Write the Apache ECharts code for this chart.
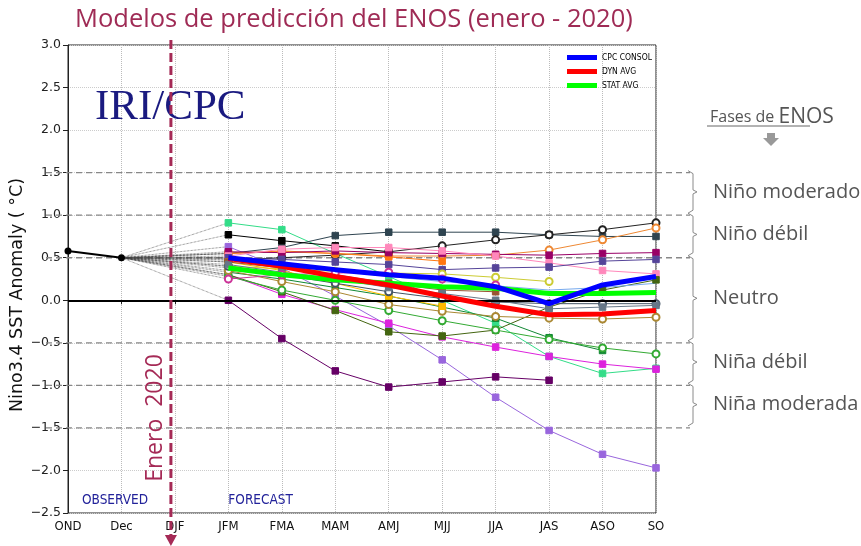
<!DOCTYPE html>
<html><head><meta charset="utf-8">
<script src="https://cdn.jsdelivr.net/npm/echarts@6/dist/echarts.min.js"></script>
<style>html,body{margin:0;padding:0;background:#fff}#c{width:861px;height:546px}</style>
</head><body><div id="c"></div>
<script>
// ---------- data ----------
const categories = ['OND','Dec','DJF','JFM','FMA','MAM','AMJ','MJJ','JJA','JAS','ASO','SO'];
const yTicks = [-2.5,-2.0,-1.5,-1.0,-0.5,0.0,0.5,1.0,1.5,2.0,2.5,3.0];
const observed = [0.58, 0.50];            // OND, Dec
// forecast values JFM..SO
const cpcConsol = [0.50,0.43,0.36,0.30,0.26,0.16,-0.04,0.18,0.28];
const dynAvg    = [0.49,0.40,0.28,0.18,0.05,-0.07,-0.17,-0.16,-0.12];
const statAvg   = [0.38,0.30,0.24,0.20,0.16,0.14,0.08,0.08,0.09];

const mSeafoam   = [0.91,0.83,0.55,0.28,0.00,-0.27,-0.66,-0.86,-0.80];
const mLavender  = [0.63,0.38,0.05,-0.30,-0.70,-1.14,-1.53,-1.81,-1.97];
const mPlum      = [0.00,-0.45,-0.83,-1.02,-0.96,-0.90,-0.94,null,null];
const mSlate     = [0.55,0.62,0.76,0.80,0.80,0.80,0.77,0.75,0.75];
const mBlackSq   = [0.77,0.70,0.64,0.57,null,null,null,null,null];
const mBlackCirc = [0.47,0.50,0.53,0.57,0.64,0.71,0.77,0.83,0.91];
const mOrangeCirc= [0.55,0.57,0.55,0.52,0.52,0.53,0.59,0.71,0.85];
const mOrangeSq  = [0.55,0.58,0.55,0.51,0.46,null,null,null,null];
const mWine      = [0.57,0.56,0.58,0.56,0.55,0.54,0.53,0.55,0.56];
const mPink      = [0.52,0.60,0.62,0.62,0.58,0.52,0.44,0.35,0.31];
const mIndigo    = [0.50,0.48,0.45,0.42,0.36,0.38,0.39,0.46,0.48];
const mYellow    = [0.40,0.37,0.34,0.32,0.31,0.27,0.22,null,null];
const mMagenta   = [0.30,0.07,-0.11,-0.27,-0.43,-0.55,-0.66,-0.75,-0.81];
const mOlive     = [0.30,0.10,-0.12,-0.37,-0.42,-0.35,-0.08,0.12,0.24];
const mDkGreen   = [0.33,0.25,0.15,0.05,-0.08,-0.21,-0.44,-0.59,null];
const mGreenCirc = [0.28,0.12,0.00,-0.12,-0.24,-0.35,-0.46,-0.56,-0.63];
const mTan       = [0.35,0.22,0.10,-0.05,-0.13,-0.19,-0.21,-0.22,-0.20];
const mGold      = [0.45,0.35,0.20,0.05,-0.07,null,null,null,null];
const mBrown     = [0.45,0.38,0.30,0.20,0.12,0.10,null,null,null];
const mLtBlue    = [0.48,0.42,0.35,0.28,0.22,0.17,0.12,0.15,0.20];
const mGrayCirc  = [0.40,0.30,0.20,0.10,0.02,-0.02,-0.04,-0.04,-0.04];
const mGraySq    = [0.42,0.33,0.25,0.15,0.08,0.00,-0.10,-0.08,-0.06];
const mRoseCirc  = [0.25,0.30,0.32,0.33,0.25,0.18,null,null,null];

const phaseLines = [1.5,1.0,0.5,-0.5,-1.0,-1.5];
const phaseNames = ['Niño moderado','Niño débil','Neutro','Niña débil','Niña moderada'];

// ---------- build ----------
const models = [
  {v:mSeafoam,c:'#33dd88',s:'rect'},{v:mLavender,c:'#9966dd',s:'rect'},{v:mPlum,c:'#660066',s:'rect'},
  {v:mSlate,c:'#2f4450',s:'rect'},{v:mBlackSq,c:'#000000',s:'rect'},{v:mBlackCirc,c:'#222222',s:'emptyCircle'},
  {v:mOrangeCirc,c:'#ee8833',s:'emptyCircle'},{v:mOrangeSq,c:'#ff7711',s:'rect'},{v:mWine,c:'#990066',s:'rect'},
  {v:mPink,c:'#ff88bb',s:'rect'},{v:mIndigo,c:'#554499',s:'rect'},{v:mYellow,c:'#cccc33',s:'emptyCircle'},
  {v:mMagenta,c:'#dd22dd',s:'rect'},{v:mOlive,c:'#446611',s:'rect'},{v:mDkGreen,c:'#118833',s:'rect'},
  {v:mGreenCirc,c:'#33aa33',s:'emptyCircle'},{v:mTan,c:'#aa8833',s:'emptyCircle'},{v:mGold,c:'#ffbb00',s:'rect'},
  {v:mBrown,c:'#995533',s:'rect'},{v:mLtBlue,c:'#77aaee',s:'none'},{v:mGrayCirc,c:'#445566',s:'emptyCircle'},
  {v:mGraySq,c:'#667788',s:'rect'},{v:mRoseCirc,c:'#cc3399',s:'emptyCircle'}
];
const lead = [null,null,null];
const series = [];
// connectors Dec -> JFM
models.concat([{v:cpcConsol},{v:dynAvg},{v:statAvg}]).forEach(m => {
  series.push({type:'line', silent:true, connectNulls:true, symbol:'none', z:1,
    data:[null, observed[1], null, m.v[0]].concat(new Array(8).fill(null)),
    lineStyle:{color:'#444', width:0.7, type:'dotted'}});
});
models.forEach(m => {
  series.push({type:'line', silent:true, symbol:m.s, symbolSize: m.s==='rect'?6.5:7,
    data: lead.concat(m.v), z:3,
    itemStyle:{color:m.c, borderColor:m.c, borderWidth:1},
    lineStyle:{color:m.c, width:1}});
});
series.push({name:'observed', type:'line', silent:true, symbol:'circle', symbolSize:7, z:6,
  data: observed.concat(new Array(10).fill(null)),
  itemStyle:{color:'#000'}, lineStyle:{color:'#000', width:2},
  markLine:{silent:true, symbol:'none', label:{show:false}, lineStyle:{color:'#000', width:2, type:'solid'}, data:[{yAxis:0}]}});
series.push({name:'STAT AVG', type:'line', symbol:'none', z:7, data: lead.concat(statAvg), itemStyle:{color:'#00ff00'}, lineStyle:{color:'#00ff00', width:5}});
series.push({name:'DYN AVG', type:'line', symbol:'none', z:8, data: lead.concat(dynAvg), itemStyle:{color:'#ff0000'}, lineStyle:{color:'#ff0000', width:5}});
series.push({name:'CPC CONSOL', type:'line', symbol:'none', z:9, data: lead.concat(cpcConsol), itemStyle:{color:'#0000ff'}, lineStyle:{color:'#0000ff', width:5}});

const option = {
  animation:false,
  backgroundColor:'#ffffff',
  title:{text:'Modelos de predicción del ENOS (enero - 2020)', left:70, top:2,
    textStyle:{fontFamily:'Open Sans', fontSize:25.5, fontWeight:'normal', color:'#9f2b55'}},
  legend:{data:['CPC CONSOL','DYN AVG','STAT AVG'], orient:'vertical', left:562, top:47,
    icon:'rect', itemWidth:30, itemHeight:5, itemGap:3,
    textStyle:{fontFamily:'DejaVu Sans Condensed, DejaVu Sans', fontSize:8.5, color:'#000', lineHeight:11}},
  grid:{left:68, right:205, top:45, bottom:33, show:true, borderColor:'#222', borderWidth:1, backgroundColor:'transparent'},
  xAxis:{type:'category', data:categories, boundaryGap:false,
    axisLine:{lineStyle:{color:'#222', width:1}}, axisTick:{show:true, length:4, lineStyle:{color:'#222'}},
    axisLabel:{fontFamily:'DejaVu Sans Condensed, DejaVu Sans', fontSize:13, color:'#111', margin:7, interval:0},
    splitLine:{show:true, lineStyle:{color:'#bbb', type:'dotted', width:1}}},
  yAxis:{type:'value', min:yTicks[0], max:yTicks[yTicks.length-1], interval:0.5,
    axisLine:{show:true, lineStyle:{color:'#222', width:1}}, axisTick:{show:true, length:5, lineStyle:{color:'#222'}},
    axisLabel:{fontFamily:'DejaVu Sans', fontSize:12.5, color:'#222', margin:7,
      formatter: v => v.toFixed(1).replace('-', '\u2212')},
    splitLine:{show:true, lineStyle:{color:'#ccc', type:'dotted', width:1}}},
  series: series
};
const chart = echarts.init(document.getElementById('c'));
chart.setOption(option);

const px = (i, v) => chart.convertToPixel({gridIndex:0}, [i, v]);
const g = [];
const gray = '#8a8a8a';
phaseLines.forEach(v => {
  const y = px(0, v)[1];
  g.push({type:'line', silent:true, z:1, shape:{x1:46, y1:y, x2:690, y2:y}, style:{stroke:'#888', lineWidth:1.3, lineDash:[6,4]}});
});
for (let k = 0; k < phaseNames.length; k++) {
  const y1 = px(0, phaseLines[k])[1] - 2, y2 = px(0, phaseLines[k+1])[1] - 2;
  const ym = (y1 + y2) / 2;
  g.push({type:'polyline', silent:true, shape:{points:[[688,y1],[693,y1+3],[693,ym-2],[697,ym],[693,ym+2],[693,y2-3],[688,y2]]},
    style:{stroke:gray, lineWidth:1, fill:null}});
  g.push({type:'text', silent:true, x:713, y:ym, style:{text:phaseNames[k], fontFamily:'Open Sans', fontSize:20,
    fill:'#555', textVerticalAlign:'middle', textAlign:'left'}});
}
g.push({type:'text', silent:true, x:710, y:117, style:{text:'{a|Fases de }{b|ENOS}',
  rich:{a:{fontFamily:'Open Sans', fontSize:16, fill:'#555', color:'#555'}, b:{fontFamily:'Open Sans', fontSize:21, fill:'#555', color:'#555'}},
  textVerticalAlign:'middle'}});
g.push({type:'line', silent:true, shape:{x1:707, y1:126, x2:810, y2:126}, style:{stroke:'#666', lineWidth:1}});
g.push({type:'polygon', silent:true, shape:{points:[[767,133],[775,133],[775,138],[779,138],[771,146],[763,138],[767,138]]}, style:{fill:'#999'}});

const xv = px(2, 0)[0] - 4;
g.push({type:'line', silent:true, z:10, shape:{x1:xv, y1:40, x2:xv, y2:538}, style:{stroke:'#a52a56', lineWidth:3, lineDash:[9,4]}});
g.push({type:'polygon', silent:true, z:10, shape:{points:[[xv-6,535],[xv+6,535],[xv,546]]}, style:{fill:'#a52a56'}});
g.push({type:'text', silent:true, z:10, x:xv-15, y:418, rotation:Math.PI/2,
  style:{text:'Enero  2020', fontFamily:'Open Sans', fontSize:23, fill:'#a52a56', textAlign:'center', textVerticalAlign:'middle'}});
g.push({type:'text', silent:true, x:95, y:108, style:{text:'IRI/CPC', fontFamily:'Liberation Serif', fontSize:43, fill:'#1a1a80', textVerticalAlign:'middle'}});
g.push({type:'text', silent:true, x:17, y:295, rotation:Math.PI/2,
  style:{text:'Nino3.4 SST Anomaly ( \u00b0C)', fontFamily:'DejaVu Sans', fontSize:17.5, fill:'#111', textAlign:'center', textVerticalAlign:'middle'}});
g.push({type:'text', silent:true, x:82, y:500, style:{text:'OBSERVED', fontFamily:'DejaVu Sans Condensed, DejaVu Sans', fontSize:13.5, fill:'#22229a', textVerticalAlign:'middle'}});
g.push({type:'text', silent:true, x:px(3,0)[0], y:500, style:{text:'FORECAST', fontFamily:'DejaVu Sans Condensed, DejaVu Sans', fontSize:13.5, fill:'#22229a', textVerticalAlign:'middle'}});
chart.setOption({graphic:{elements:g}});
</script></body></html>
